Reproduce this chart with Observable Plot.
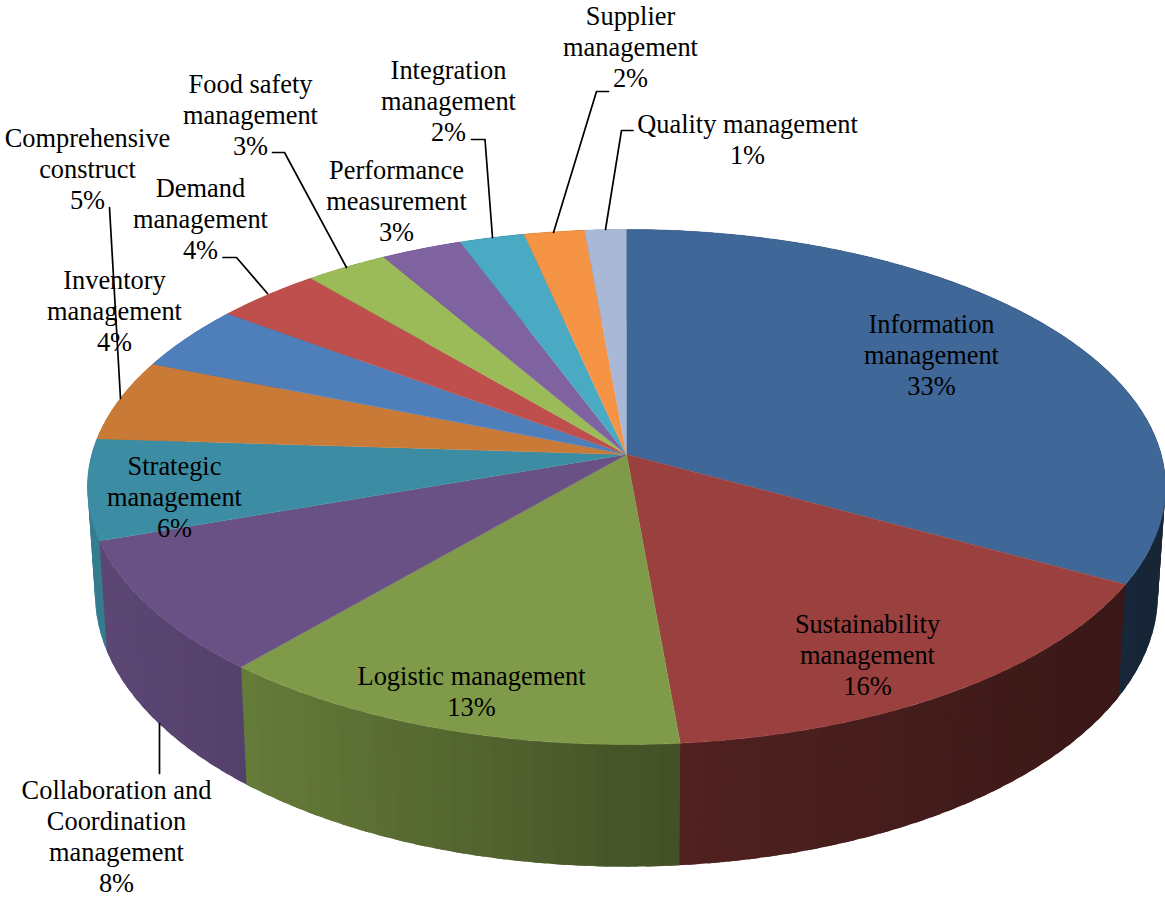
<!DOCTYPE html>
<html>
<head>
<meta charset="utf-8">
<script src="https://cdn.jsdelivr.net/npm/d3@7"></script>
<script src="https://cdn.jsdelivr.net/npm/@observablehq/plot@0.6"></script>
<style>html,body{margin:0;padding:0;background:#fff}svg{display:block}</style>
</head>
<body>
<div id="chart"></div>
<script>
// Data, clockwise from 12 o'clock
const categories = ["Information management","Sustainability management","Logistic management","Collaboration and Coordination management","Strategic management","Comprehensive construct","Inventory management","Demand management","Food safety management","Performance measurement","Integration management","Supplier management","Quality management"];
const values = [33,15.6,12.7,8.4,6.3,5.1,4.1,3.6,2.8,2.75,2.2,2.05,1.4];
const shownPercent = ["33%","16%","13%","8%","6%","5%","4%","4%","3%","3%","2%","2%","1%"];
const sliceColors = ["#3F6797","#9A403E","#7F9A48","#695185","#3C8DA3","#C97A37","#4F7FBA","#BE4F4C","#9BBA58","#7F63A0","#4AA9C3","#F59445","#A9B8D7"];

// Layout of the labels and the leader lines (pixels of the 1165x897 frame)
const labelText = ["Information\nmanagement\n33%","Sustainability\nmanagement\n16%","Logistic management\n13%","Collaboration and\nCoordination\nmanagement\n8%","Strategic\nmanagement\n6%","Comprehensive\nconstruct\n5%","Inventory\nmanagement\n4%","Demand\nmanagement\n4%","Food safety\nmanagement\n3%","Performance\nmeasurement\n3%","Integration\nmanagement\n2%","Supplier\nmanagement\n2%","Quality management\n1%"];
const labelX = [931,867,471,116,174,87,114,200,250,396,448,630,747];
const labelY = [353.5,653.5,690,835,495.5,167.5,309.5,217.5,113.5,199.5,99.5,45.5,138];
const leaders = [
  [[109,207],[120,398]],
  [[272,152],[284,152],[346,267]],
  [[471,139],[484.5,139],[492,237]],
  [[608,91],[596,91],[553,232]],
  [[632.5,130],[621,130],[605,229]],
  [[222.5,257],[236,257],[267,293]],
  [[159,723],[159,773]]
];

// Perspective of the disc
const cx = 626, cy = 454, A = 534.7, K = 253.4, P = 0.1262;
const top3d = t => {
  const w = 1 + P * Math.cos(t);
  return [cx + A * Math.sin(t) / w, cy - K * Math.cos(t) / w];
};
const bottom3d = ([x, y]) => [cx + 0.986 * (x - cx), cy + 105 + 1.059 * (y - cy)];
const shade = d3.scaleLinear().domain([-1,-0.72,0.1,1]).range([0.88,0.8,0.52,0.36]);

const total = d3.sum(values);
let cum = 0;
const slices = values.map((v, i) => {
  const a0 = cum / total * 2 * Math.PI; cum += v;
  return {i, a0, a1: cum / total * 2 * Math.PI};
});

// Arc of the disc rim between two angles
const arc = (a, b, n) => d3.range(n + 1).map(k => top3d(a + (b - a) * k / n));

// Side wall strips, back to front; top wedges
const stripList = [];
const topRows = [];
const STEP = Math.PI / 90;
for (const s of slices) {
  const n = Math.max(2, Math.ceil((s.a1 - s.a0) / STEP));
  const dt = (s.a1 - s.a0) / n;
  topRows.push({x: cx, y: cy, key: "t" + s.i, color: sliceColors[s.i]});
  for (const [x, y] of arc(s.a0, s.a1, n * 3)) topRows.push({x, y, key: "t" + s.i, color: sliceColors[s.i]});
  for (let k = 0; k < n; k++) {
    let t = s.a0 + dt * k, t2 = t + dt;
    const mid = (t + t2) / 2;
    const u = Math.sin(mid) / (1 + P * Math.cos(mid));
    const c = d3.rgb(sliceColors[s.i]);
    const f = shade(u);
    const color = d3.rgb(c.r * f, c.g * f, c.b * f).formatHex();
    // each strip runs on under its nearer neighbour, so no seam shows
    if (mid < Math.PI) t2 += dt * 0.6; else t -= dt * 0.6;
    const rim = arc(t, t2, 3);
    stripList.push({d: Math.cos(mid), key: `w${s.i}-${k}`, color, pts: [...rim, ...rim.map(bottom3d).reverse()]});
  }
}
stripList.sort((a, b) => b.d - a.d);
const wallRows = stripList.flatMap(w => w.pts.map(([x, y]) => ({x, y, key: w.key, color: w.color})));

const labelRows = labelText.map((text, i) => ({text, x: labelX[i], y: labelY[i]}));
const leaderRows = leaders.flatMap((pts, i) => pts.map(([x, y]) => ({x, y, key: i})));

const plot = Plot.plot({
  width: 1165, height: 897,
  margin: 0,
  x: {domain: [0, 1165], range: [0, 1165], axis: null},
  y: {domain: [0, 897], range: [0, 897], axis: null},
  color: {type: "identity"},
  style: {background: "#fff", fontFamily: "'Liberation Serif', 'Times New Roman', serif"},
  marks: [
    Plot.line(wallRows, {x: "x", y: "y", z: "key", fill: "color", stroke: null, curve: "linear"}),
    Plot.line(topRows, {x: "x", y: "y", z: "key", fill: "color", stroke: "color", strokeWidth: 0.5, curve: "linear"}),
    Plot.line(leaderRows, {x: "x", y: "y", z: "key", stroke: "#000", strokeWidth: 1.7, curve: "linear"}),
    Plot.text(labelRows, {x: "x", y: "y", text: "text", fontSize: 26.4, lineHeight: 1.174, textAnchor: "middle", lineAnchor: "middle", fill: "#000"})
  ]
});
document.getElementById("chart").append(plot);
</script>
</body>
</html>
